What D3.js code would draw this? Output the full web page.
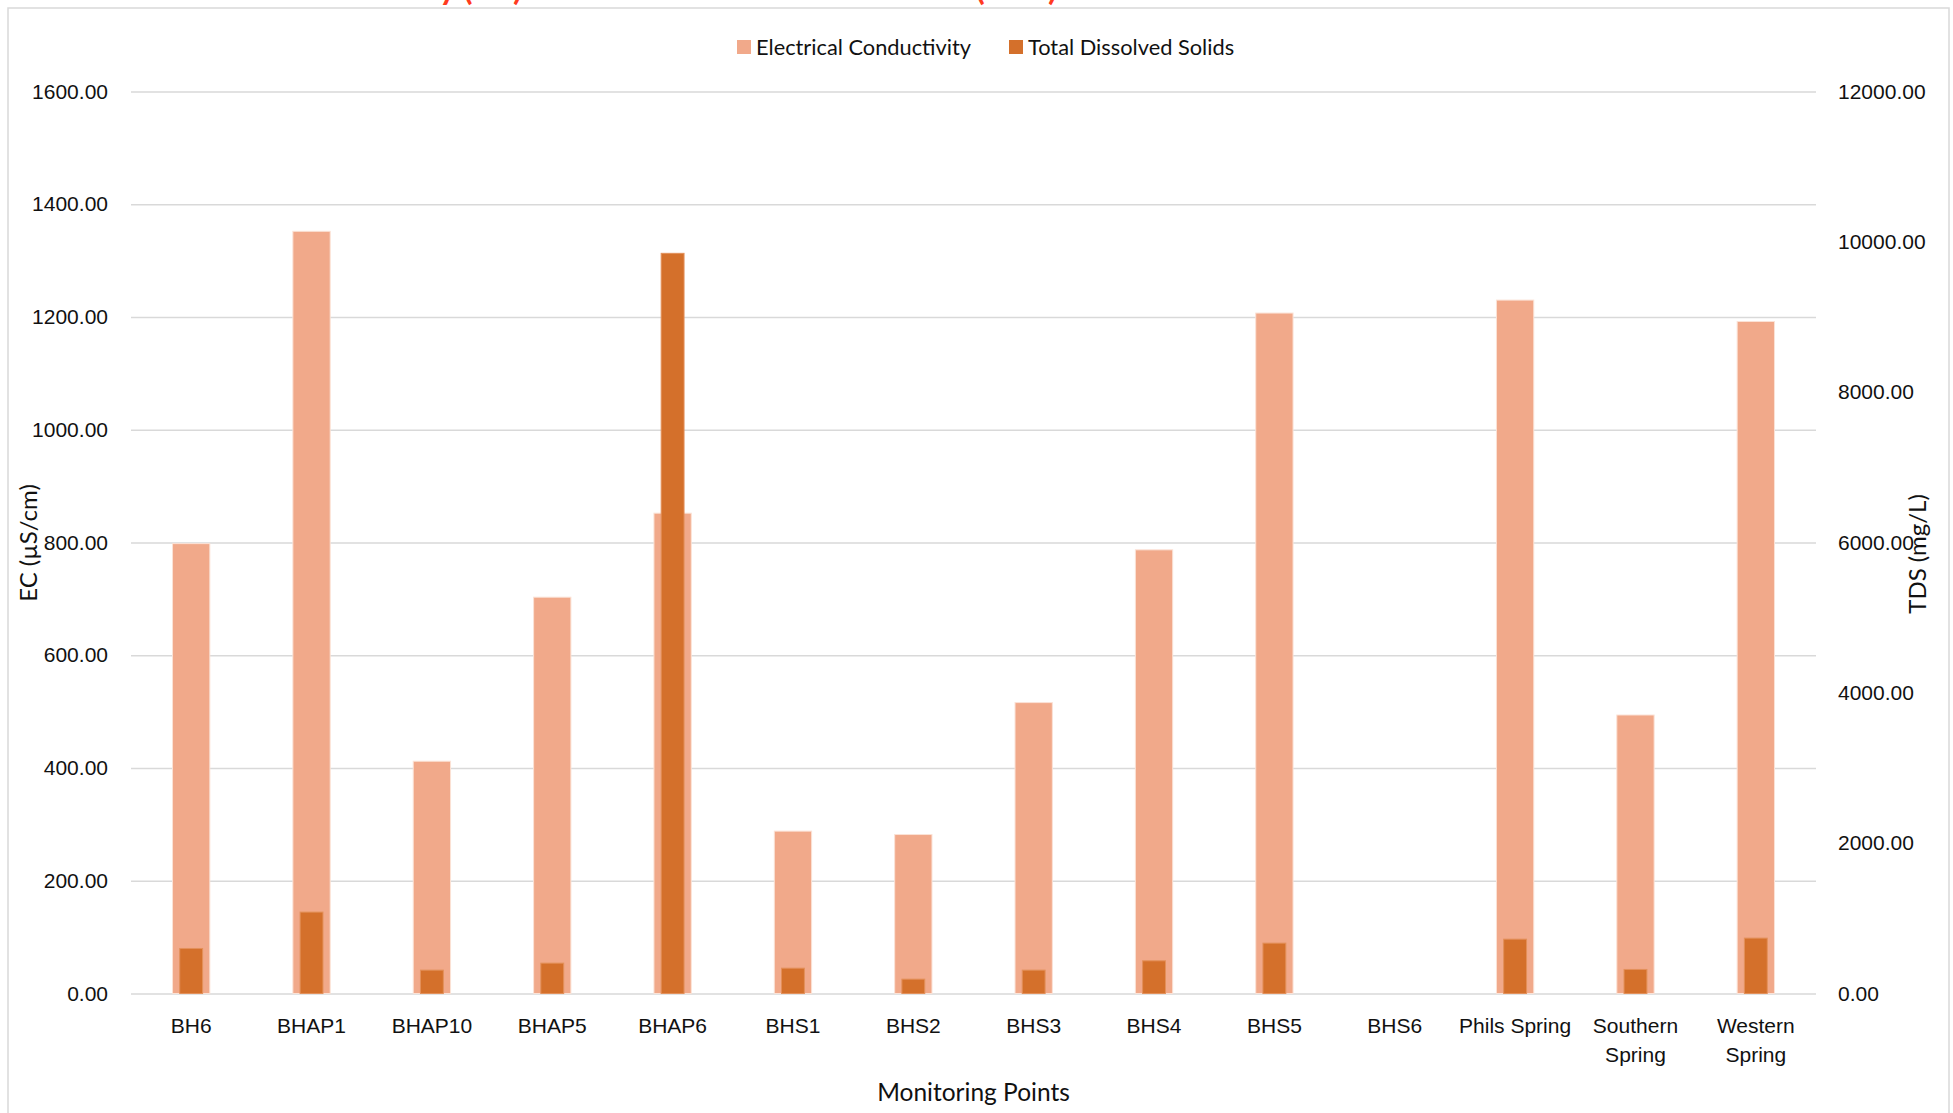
<!DOCTYPE html>
<meta charset="utf-8">
<style>
body {
	margin: 0;
	background: #fff;
}
svg {
	display: block;
	font-family: Lato, "Open Sans", sans-serif;
}
.grid line {
	stroke: #d9d9d9;
	stroke-width: 1.5;
}
.axis text {
	font-size: 21px;
	fill: #111;
}
</style>
<body>
<svg></svg>
<script src="https://d3js.org/d3.v7.min.js"></script>
<script>

var categories = ["BH6", "BHAP1", "BHAP10", "BHAP5", "BHAP6", "BHS1", "BHS2", "BHS3", "BHS4", "BHS5", "BHS6", "Phils Spring", "Southern Spring", "Western Spring"];
var tickLabels = [["BH6"], ["BHAP1"], ["BHAP10"], ["BHAP5"], ["BHAP6"], ["BHS1"], ["BHS2"], ["BHS3"], ["BHS4"], ["BHS5"], ["BHS6"], ["Phils Spring"], ["Southern", "Spring"], ["Western", "Spring"]];
var ecValues = [798, 1352, 412, 703, 852, 288, 282, 516, 787, 1207, null, 1230, 494, 1192];
var tdsValues = [599, 1083, 311, 404, 9847, 337, 191, 311, 435, 670, null, 723, 320, 737];
var ecTicks = [0, 200, 400, 600, 800, 1000, 1200, 1400, 1600];
var tdsTicks = [0, 2000, 4000, 6000, 8000, 10000, 12000];
var seriesNames = ["Electrical Conductivity", "Total Dissolved Solids"];
var seriesColors = ["#f1a98a", "#d4702b"];
var titleParts = ["Electrical Conductivity (EC)", "and Total Dissolved Solids (TDS)"];

var width = 1953, height = 1113;
var margin = {top: 91.5, right: 137, bottom: 119.5, left: 131};
var plotW = width - margin.left - margin.right;
var plotH = height - margin.top - margin.bottom;

var svg = d3.select("svg")
	.attr("width", width)
	.attr("height", height);

// chart frame, bottom edge runs off the picture
svg.append("rect")
	.attr("x", 8).attr("y", 8)
	.attr("width", 1941).attr("height", 1140)
	.attr("fill", "none")
	.attr("stroke", "#d9d9d9")
	.attr("stroke-width", 1.5);

// title, mostly cut off at the top edge
var titleEnds = [522, 1057];
titleParts.forEach(function(part, i) {
	svg.append("text")
		.attr("x", titleEnds[i]).attr("y", 0)
		.attr("text-anchor", "end")
		.attr("font-size", 33)
		.attr("font-weight", "bold")
		.attr("fill", "#ff3b1f")
		.text(part);
});

var g = svg.append("g")
	.attr("transform", "translate(" + margin.left + "," + margin.top + ")");

var yEC = d3.scaleLinear().domain([0, 1600]).range([plotH, 0]);
var yTDS = d3.scaleLinear().domain([0, 12000]).range([plotH, 0]);

var xEC = d3.scaleBand().domain(categories).range([0, plotW])
	.paddingInner(0.69).paddingOuter(0.345);
var xTDS = d3.scaleBand().domain(categories).range([0, plotW])
	.paddingInner(0.81).paddingOuter(0.405);

var fmt = d3.format(".2f");

var leftAxis = g.append("g")
	.attr("class", "axis grid")
	.call(d3.axisLeft(yEC).tickValues(ecTicks).tickSize(-plotW).tickPadding(23).tickFormat(fmt));
leftAxis.select(".domain").remove();

var rightAxis = g.append("g")
	.attr("class", "axis")
	.attr("transform", "translate(" + plotW + ",0)")
	.call(d3.axisRight(yTDS).tickValues(tdsTicks).tickSize(0).tickPadding(22).tickFormat(fmt));
rightAxis.select(".domain").remove();

var bottomAxis = g.append("g")
	.attr("class", "axis")
	.attr("transform", "translate(0," + plotH + ")")
	.call(d3.axisBottom(xEC).tickSize(0).tickFormat(""));
bottomAxis.select(".domain").remove();
bottomAxis.selectAll(".tick").each(function(d, i) {
	var t = d3.select(this).select("text")
		.attr("y", 0)
		.attr("dy", null);
	tickLabels[i].forEach(function(line, j) {
		t.append("tspan")
			.attr("x", 0)
			.attr("y", 39 + j * 29)
			.text(line);
	});
});

g.selectAll(".ec")
	.data(categories.filter(function(c, i) { return ecValues[i] != null; }))
	.enter().append("rect")
	.attr("class", "ec")
	.attr("x", function(d) { return xEC(d); })
	.attr("width", xEC.bandwidth())
	.attr("y", function(d) { return yEC(ecValues[categories.indexOf(d)]); })
	.attr("height", function(d) { return plotH - yEC(ecValues[categories.indexOf(d)]); })
	.attr("fill", seriesColors[0])
	.attr("stroke", "#fbe2d6")
	.attr("stroke-width", 1);

g.selectAll(".tds")
	.data(categories.filter(function(c, i) { return tdsValues[i] != null; }))
	.enter().append("rect")
	.attr("class", "tds")
	.attr("x", function(d) { return xTDS(d); })
	.attr("width", xTDS.bandwidth())
	.attr("y", function(d) { return yTDS(tdsValues[categories.indexOf(d)]); })
	.attr("height", function(d) { return plotH - yTDS(tdsValues[categories.indexOf(d)]); })
	.attr("fill", seriesColors[1])
	.attr("stroke", "#e3905a")
	.attr("stroke-width", 1);

// axis titles
svg.append("text")
	.attr("transform", "translate(37,543) rotate(-90)")
	.attr("text-anchor", "middle")
	.attr("font-size", 24)
	.attr("fill", "#111")
	.text("EC (µS/cm)");

svg.append("text")
	.attr("transform", "translate(1926,554) rotate(-90)")
	.attr("text-anchor", "middle")
	.attr("font-size", 24)
	.attr("fill", "#111")
	.text("TDS (mg/L)");

svg.append("text")
	.attr("x", margin.left + plotW / 2)
	.attr("y", 1101)
	.attr("text-anchor", "middle")
	.attr("font-size", 24.5)
	.attr("fill", "#111")
	.text("Monitoring Points");

// legend
var legend = svg.append("g");
var legendX = [737, 1009];
seriesNames.forEach(function(name, i) {
	var item = legend.append("g")
		.attr("transform", "translate(" + legendX[i] + ",47)");
	item.append("rect")
		.attr("x", 0).attr("y", -7)
		.attr("width", 14).attr("height", 14)
		.attr("fill", seriesColors[i]);
	item.append("text")
		.attr("x", 19).attr("y", 7.5)
		.attr("font-size", 21.8)
		.attr("fill", "#111")
		.text(name);
});
</script>
</body>
